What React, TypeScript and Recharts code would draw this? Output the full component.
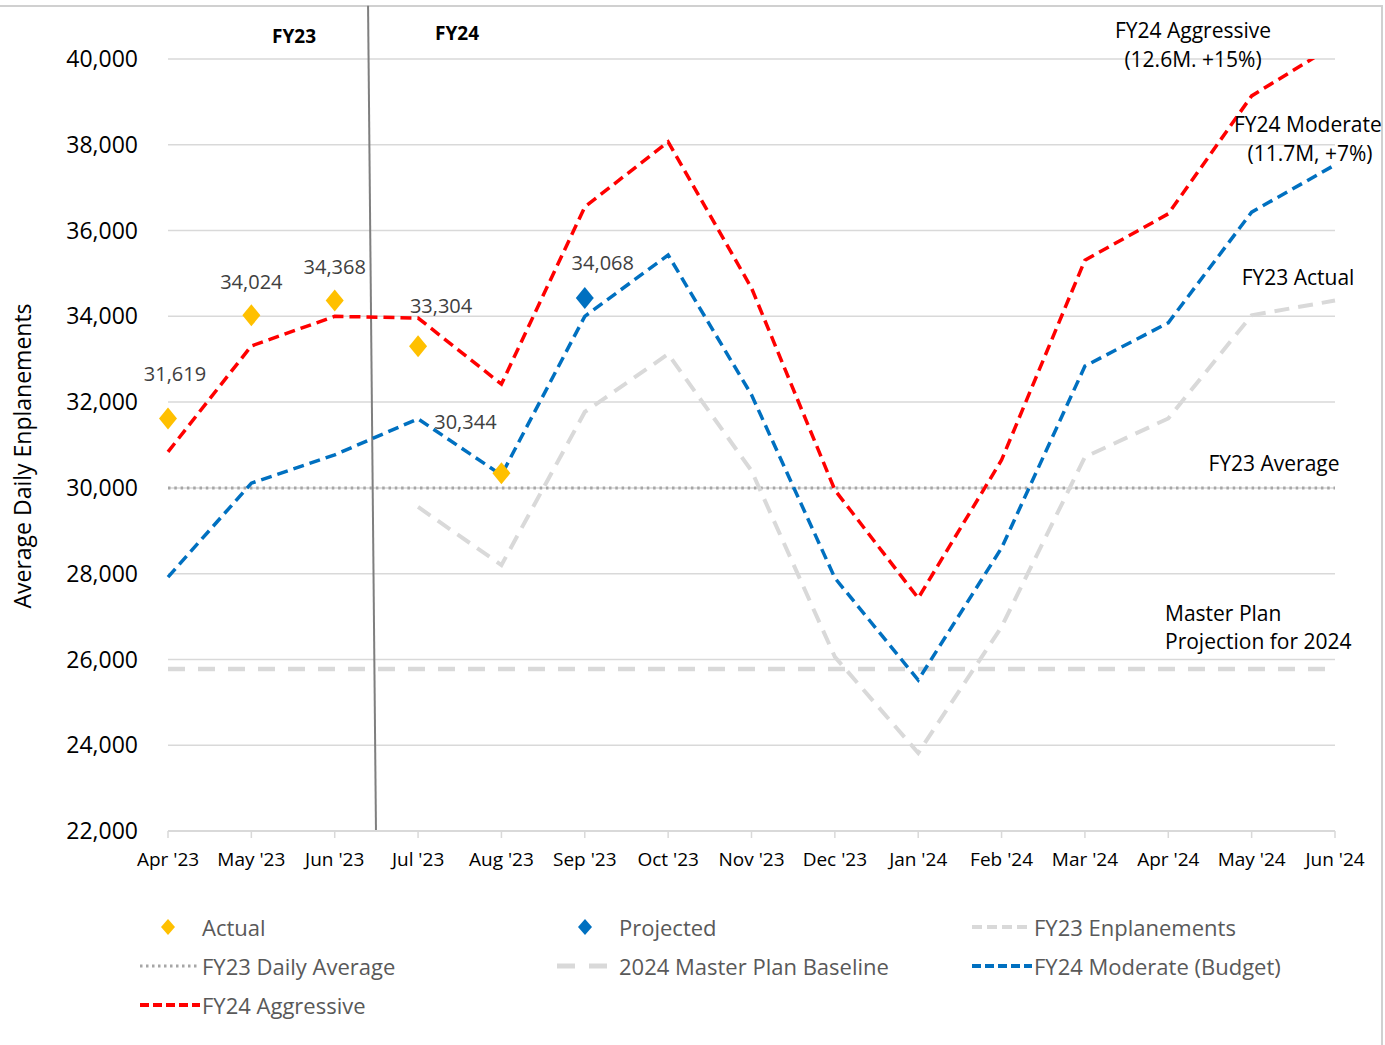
import React from "react";
import {
  ComposedChart,
  Line,
  XAxis,
  YAxis,
  CartesianGrid,
  ReferenceLine,
  LabelList,
} from "recharts";

const months = [
  "Apr '23", "May '23", "Jun '23", "Jul '23", "Aug '23", "Sep '23", "Oct '23", "Nov '23",
  "Dec '23", "Jan '24", "Feb '24", "Mar '24", "Apr '24", "May '24", "Jun '24",
];
const actual = [31619, 34024, 34368, 33304, 30344, null, null, null, null, null, null, null, null, null, null];
const projected = [null, null, null, null, null, 34430, null, null, null, null, null, null, null, null, null];
const projectedLabels = ["", "", "", "", "", "34,068", "", "", "", "", "", "", "", "", ""];
const fy23Enplanements = [null, null, null, 29555, 28200, 31770, 33120, 30400, 26060, 23820, 26760, 30720, 31619, 34024, 34368];
const fy23DailyAverage = [30000, 30000, 30000, 30000, 30000, 30000, 30000, 30000, 30000, 30000, 30000, 30000, 30000, 30000, 30000];
const masterPlanBaseline = [25780, 25780, 25780, 25780, 25780, 25780, 25780, 25780, 25780, 25780, 25780, 25780, 25780, 25780, 25780];
const fy24Moderate = [27920, 30110, 30770, 31610, 30300, 34000, 35430, 32170, 27900, 25520, 28600, 32840, 33850, 36430, 37530];
const fy24Aggressive = [30840, 33310, 34000, 33960, 32420, 36550, 38070, 34660, 29950, 27430, 30650, 35310, 36390, 39140, 40330];
const yTicks = [22000, 24000, 26000, 28000, 30000, 32000, 34000, 36000, 38000, 40000];

const data = months.map((m, i) => ({
  month: m,
  actual: actual[i],
  projected: projected[i],
  fy23: fy23Enplanements[i],
  avg: fy23DailyAverage[i],
  baseline: masterPlanBaseline[i],
  moderate: fy24Moderate[i],
  aggressive: fy24Aggressive[i],
}));

const FONT = "'Open Sans', sans-serif";
const GOLD = "#FFC000";
const BLUE = "#0070C0";
const RED = "#FF0000";
const LIGHT = "#D9D9D9";

// label offsets relative to the diamond
const actualOffsets = [[7, -45], [0, -34], [0, -34], [23, -41], [-36, -52]];

const Diamond = (color: string) => (props: any) => {
  const { cx, cy, value } = props;
  if (value == null || cx == null || cy == null) return <g key={props.key} />;
  return (
    <polygon
      key={props.key}
      points={`${cx},${cy - 11} ${cx + 9},${cy} ${cx},${cy + 11} ${cx - 9},${cy}`}
      fill={color}
    />
  );
};

const fmt = (v: number) => v.toLocaleString("en-US");

const ActualLabel = (props: any) => {
  const { x, y, value, index } = props;
  if (value == null) return null;
  const [dx, dy] = actualOffsets[index] || [0, -34];
  return (
    <text x={x + dx} y={y + dy} textAnchor="middle" dominantBaseline="central" fill="#404040" fontSize={20} fontFamily={FONT}>
      {fmt(value)}
    </text>
  );
};

const ProjectedLabel = (props: any) => {
  const { x, y, value, index } = props;
  if (value == null) return null;
  return (
    <text x={x + 18} y={y - 35} textAnchor="middle" dominantBaseline="central" fill="#404040" fontSize={20} fontFamily={FONT}>
      {projectedLabels[index]}
    </text>
  );
};

const legendItems = [
  { name: "Actual", kind: "diamond", color: GOLD, x: 140, y: 927 },
  { name: "Projected", kind: "diamond", color: BLUE, x: 557, y: 927 },
  { name: "FY23 Enplanements", kind: "line", color: LIGHT, dash: "10 5", w: 4, x: 972, y: 927 },
  { name: "FY23 Daily Average", kind: "line", color: "#A6A6A6", dash: "2.5 3.5", w: 3, x: 140, y: 966 },
  { name: "2024 Master Plan Baseline", kind: "line", color: LIGHT, dash: "18 14", w: 5, x: 557, y: 966 },
  { name: "FY24 Moderate (Budget)", kind: "line", color: BLUE, dash: "9 4", w: 4, x: 972, y: 966 },
  { name: "FY24 Aggressive", kind: "line", color: RED, dash: "9 4", w: 4, x: 140, y: 1005 },
];

export default function App() {
  return (
    <div style={{ position: "absolute", left: 0, top: 0, width: 1385, height: 1045, background: "#fff", fontFamily: FONT }}>
      <div style={{ position: "absolute", left: -2, top: 5, width: 1383, height: 1045, borderTop: "2px solid #D0D0D0", borderRight: "2px solid #D0D0D0" }} />
      <ComposedChart
        width={1385}
        height={1045}
        data={data}
        margin={{ top: 59, right: 50, bottom: 184, left: 0 }}
        style={{ position: "absolute", left: 0, top: 0 }}
      >
        <CartesianGrid vertical={false} stroke={LIGHT} strokeWidth={1.5} />
        <XAxis
          dataKey="month"
          scale="point"
          interval={0}
          axisLine={{ stroke: LIGHT, strokeWidth: 2 }}
          tickLine={{ stroke: LIGHT, strokeWidth: 1.5 }}
          tickSize={7}
          tickMargin={15}
          tick={{ fill: "#000", fontSize: 19, fontFamily: FONT }}
        />
        <XAxis xAxisId="n" type="number" domain={[0, 14]} allowDataOverflow hide />
        <YAxis
          width={168}
          domain={[22000, 40000]}
          ticks={yTicks}
          interval={0}
          axisLine={false}
          tickLine={false}
          tickMargin={24}
          tickFormatter={(v) => fmt(v)}
          tick={{ fill: "#000", fontSize: 23, fontFamily: FONT }}
        />
        <YAxis yAxisId="clip" domain={[22000, 40000]} allowDataOverflow hide />
        <ReferenceLine
          xAxisId="n"
          segment={[{ x: 2.4, y: 41240 }, { x: 2.495, y: 22000 }]}
          stroke="#7F7F7F"
          strokeWidth={2}
          ifOverflow="visible"
        />
        <Line dataKey="avg" stroke="#A6A6A6" strokeWidth={3} strokeDasharray="2.5 3.8" dot={false} isAnimationActive={false} />
        <Line dataKey="baseline" stroke={LIGHT} strokeWidth={4.5} strokeDasharray="17 13" dot={false} isAnimationActive={false} />
        <Line dataKey="fy23" stroke={LIGHT} strokeWidth={4} strokeDasharray="15 9" dot={false} isAnimationActive={false} />
        <Line dataKey="moderate" stroke={BLUE} strokeWidth={3.5} strokeDasharray="11 6" dot={false} isAnimationActive={false} />
        <Line yAxisId="clip" dataKey="aggressive" stroke={RED} strokeWidth={3.5} strokeDasharray="11 6" dot={false} isAnimationActive={false} />
        <Line dataKey="actual" stroke="none" dot={Diamond(GOLD)} activeDot={false} isAnimationActive={false}>
          <LabelList dataKey="actual" content={ActualLabel} />
        </Line>
        <Line dataKey="projected" stroke="none" dot={Diamond(BLUE)} activeDot={false} isAnimationActive={false}>
          <LabelList dataKey="projected" content={ProjectedLabel} />
        </Line>
      </ComposedChart>
      <svg width={1385} height={1045} style={{ position: "absolute", left: 0, top: 0, pointerEvents: "none" }} fontFamily={FONT}>
        <text x={22} y={456} transform="rotate(-90 22 456)" textAnchor="middle" dominantBaseline="central" fontSize={23} fill="#000">
          Average Daily Enplanements
        </text>
        <text x={294} y={36} textAnchor="middle" dominantBaseline="central" fontSize={19} fontWeight="bold" fill="#000">FY23</text>
        <text x={457} y={33} textAnchor="middle" dominantBaseline="central" fontSize={19} fontWeight="bold" fill="#000">FY24</text>
        <text x={1193} y={30} textAnchor="middle" dominantBaseline="central" fontSize={21} fill="#000">FY24 Aggressive</text>
        <text x={1193} y={59} textAnchor="middle" dominantBaseline="central" fontSize={21} fill="#000">(12.6M. +15%)</text>
        <text x={1234} y={124} textAnchor="start" dominantBaseline="central" fontSize={21} fill="#000">FY24 Moderate</text>
        <text x={1310} y={153} textAnchor="middle" dominantBaseline="central" fontSize={21} fill="#000">(11.7M, +7%)</text>
        <text x={1298} y={277} textAnchor="middle" dominantBaseline="central" fontSize={21} fill="#000">FY23 Actual</text>
        <text x={1274} y={463} textAnchor="middle" dominantBaseline="central" fontSize={21} fill="#000">FY23 Average</text>
        <text x={1165} y={613} textAnchor="start" dominantBaseline="central" fontSize={21} fill="#000">Master Plan</text>
        <text x={1165} y={641} textAnchor="start" dominantBaseline="central" fontSize={21} fill="#000">Projection for 2024</text>
        {legendItems.map((it) => (
          <g key={it.name}>
            {it.kind === "diamond" ? (
              <polygon
                points={`${it.x + 28},${it.y - 8} ${it.x + 35},${it.y} ${it.x + 28},${it.y + 8} ${it.x + 21},${it.y}`}
                fill={it.color}
              />
            ) : (
              <line x1={it.x} x2={it.x + 60} y1={it.y} y2={it.y} stroke={it.color} strokeWidth={it.w} strokeDasharray={it.dash} />
            )}
            <text x={it.x + 62} y={it.y} dominantBaseline="central" fontSize={22} fill="#595959">{it.name}</text>
          </g>
        ))}
      </svg>
    </div>
  );
}
